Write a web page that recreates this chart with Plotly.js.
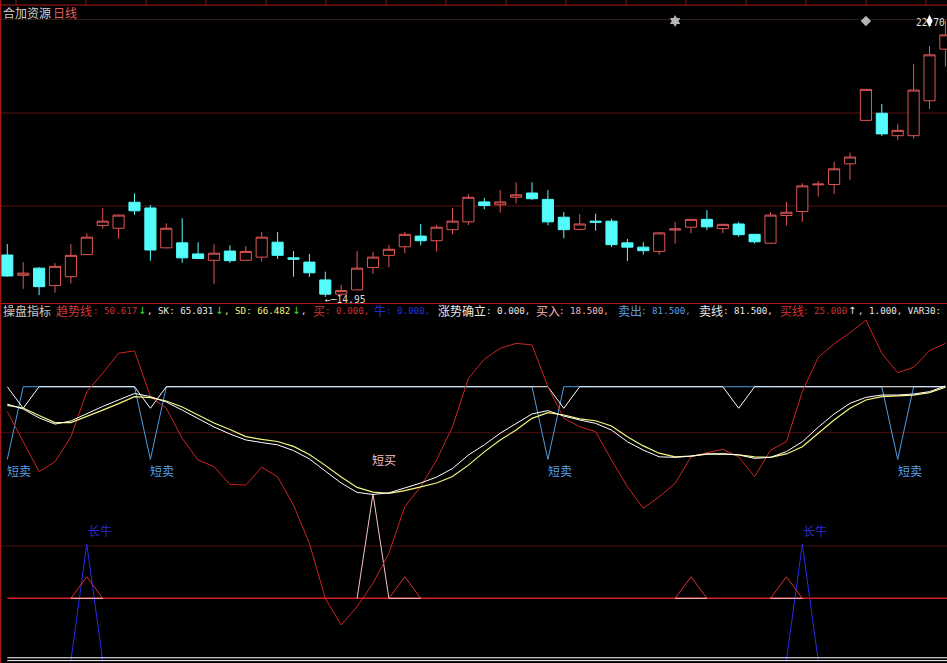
<!DOCTYPE html>
<html><head><meta charset="utf-8">
<script src="https://cdn.plot.ly/plotly-3.0.1.min.js"></script>
<style>html,body{margin:0;padding:0;background:#000;overflow:hidden}#chart{width:947px;height:663px}</style>
</head><body><div id="chart"></div>
<script>
// ---------- price panel data (daily candles, index 0..59) ----------
const openP  = [16.13,15.56,15.76,15.27,15.52,16.14,16.96,16.88,17.61,17.45,
                16.33,16.47,16.16,15.98,16.24,15.98,16.07,16.49,16.05,15.93,
                15.43,15.03,15.15,15.78,16.12,16.36,16.66,16.53,16.84,17.06,
                17.62,17.54,17.75,17.87,17.69,17.19,16.85,17.08,17.08,16.47,
                16.35,16.23,16.83,16.91,17.13,16.87,17.00,16.71,16.46,17.24,
                17.35,18.10,18.11,18.69,19.91,20.11,19.48,19.48,20.46,21.91];
const highP  = [16.44,15.93,15.79,15.90,16.44,16.74,17.45,17.26,17.86,17.53,
                17.02,17.16,16.49,16.43,16.40,16.38,16.78,16.78,16.24,16.16,
                15.66,15.29,16.24,16.22,16.41,16.78,17.00,16.97,17.45,17.84,
                17.73,17.95,18.17,18.17,17.95,17.34,17.28,17.29,17.15,16.58,
                16.49,16.78,17.06,17.14,17.39,17.00,17.06,16.72,17.33,17.62,
                18.14,18.21,18.75,19.00,20.79,20.37,19.81,21.50,22.00,22.70];
const lowP   = [15.52,15.18,15.00,15.07,15.33,16.13,16.87,16.59,17.26,15.97,
                16.32,15.91,16.02,15.32,15.90,15.97,15.95,16.02,15.52,15.51,
                14.95,14.98,15.14,15.60,15.78,16.18,16.40,16.23,16.71,16.97,
                17.41,17.32,17.58,17.67,16.96,16.60,16.82,16.81,16.35,15.96,
                16.14,16.14,16.45,16.74,16.83,16.74,16.64,16.45,16.45,16.95,
                17.06,17.77,17.84,18.24,19.90,19.47,19.36,19.40,20.23,21.42];
const closeP = [15.54,15.62,15.24,15.81,16.12,16.63,17.08,17.25,17.37,16.27,
                16.88,16.05,16.03,16.18,15.97,16.23,16.63,16.12,16.01,15.63,
                15.03,15.13,15.76,16.07,16.29,16.71,16.53,16.91,17.08,17.75,
                17.52,17.62,17.82,17.71,17.06,16.84,17.00,17.05,16.42,16.35,
                16.25,16.75,16.86,17.13,16.92,16.99,16.70,16.50,17.25,17.33,
                18.07,18.12,18.55,18.88,20.78,19.53,19.63,20.76,21.75,22.31];
const topSignalIdx = [42, 54];
const topSignalSym = ['hexagram', 'diamond'];
const lowLabelIdx = 20, lowLabelText = '\u2190\u250014.95';
const highLabelIdx = 58, highLabelText = '22.70', highValue = 22.70;

// ---------- indicator panel data ----------
const trendLine = [71.9,60.6,48.8,52.6,62.2,79.6,86.7,94.4,95.3,77.7,
                   73.2,61.6,53.3,50.7,43.9,43.6,50.5,46.8,35.9,21.2,
                   0.0,-10.3,-3.2,5.8,17.3,35.3,43.0,53.3,66.1,84.7,
                   92.1,96.3,98.2,97.6,81.5,69.3,66.1,64.2,53.3,43.0,
                   34.7,39.1,44.3,54.5,56.1,57.4,54.5,46.8,57.1,60.3,
                   79.6,92.8,98.0,102.3,107.2,94.4,86.9,89.0,95.4,98.2];
const skLine = [74.8,72.9,69.5,67.1,68.3,71.2,73.9,76.4,78.9,77.7,
                75.6,72.5,69.3,66.0,63.3,61.0,60.0,59.1,56.9,53.7,
                49.0,44.4,40.8,40.0,40.6,42.5,44.4,46.7,50.0,55.2,
                59.1,63.6,67.4,71.0,72.3,70.2,68.7,67.4,64.8,60.3,
                57.1,54.5,54.3,54.8,55.6,55.6,55.2,53.9,54.3,56.5,
                60.3,65.9,71.0,75.1,77.4,78.3,78.3,78.7,79.6,81.8];
const sdLine = [74.3,73.3,70.4,67.7,67.7,70.0,72.5,75.0,77.7,77.3,
                76.0,73.7,70.6,67.5,65.0,62.3,61.2,60.4,58.5,55.4,
                51.2,46.7,42.7,40.9,40.4,41.5,42.9,44.4,46.9,51.3,
                56.4,61.0,64.8,69.3,71.5,70.6,69.1,68.4,66.4,62.2,
                58.7,55.9,54.5,54.8,55.5,55.6,55.3,54.5,54.3,55.6,
                58.4,63.6,68.7,73.2,76.4,77.7,77.9,78.3,79.2,81.3];
const sellLine = [81.5,73.2,81.5,81.5,81.5,81.5,81.5,81.5,81.5,73.2,
                  81.5,81.5,81.5,81.5,81.5,81.5,81.5,81.5,81.5,81.5,
                  81.5,81.5,81.5,81.5,81.5,81.5,81.5,81.5,81.5,81.5,
                  81.5,81.5,81.5,81.5,81.5,73.2,81.5,81.5,81.5,81.5,
                  81.5,81.5,81.5,81.5,81.5,81.5,73.2,81.5,81.5,81.5,
                  81.5,81.5,81.5,81.5,81.5,81.5,81.5,81.5,81.5,81.5];
const shortSellLine = [53.5,81.5,81.5,81.5,81.5,81.5,81.5,81.5,81.5,53.5,
                       81.5,81.5,81.5,81.5,81.5,81.5,81.5,81.5,81.5,81.5,
                       81.5,81.5,81.5,81.5,81.5,81.5,81.5,81.5,81.5,81.5,
                       81.5,81.5,81.5,81.5,53.5,81.5,81.5,81.5,81.5,81.5,
                       81.5,81.5,81.5,81.5,81.5,81.5,81.5,81.5,81.5,81.5,
                       81.5,81.5,81.5,81.5,81.5,81.5,53.5,81.5,81.5,81.5];
const N = null;
const buyTri = [N,N,N,N,0,8.3,0,N,N,N, N,N,N,N,N,N,N,N,N,N,
                N,N,N,N,0,8.3,0,N,N,N, N,N,N,N,N,N,N,N,N,N,
                N,N,0,8.3,0,N,N,N,0,8.3, 0,N,N,N,N,N,N,N,N,N];
const shortBuy = [N,N,N,N,0,0,0,N,N,N, N,N,N,N,N,N,N,N,N,N,
                  N,N,0,40.2,0,0,0,N,N,N, N,N,N,N,N,N,N,N,N,N,
                  N,N,0,0,0,N,N,N,0,0, 0,N,N,N,N,N,N,N,N,N];
const longBull = [N,N,N,N,-24.0,20.9,-24.0,N,N,N, N,N,N,N,N,N,N,N,N,N,
                  N,N,N,N,N,N,N,N,N,N, N,N,N,N,N,N,N,N,N,N,
                  N,N,N,N,N,N,N,N,N,-24.0, 20.9,-24.0,N,N,N,N,N,N,N,N];
const baseLevel = 0, bottomLevels = [-22.9, -24.0];
const shortSellIdx = [0, 9, 34, 56], shortSellLabelY = 49.1;
const shortBuyIdx = [23], shortBuyLabelY = 53.3;
const longBullIdx = [5, 50], longBullLabelY = 26.0;

// header (indicator values): [text, colour, x px, kind]  kind: c=CJK, m=mono, a=arrow
const headerParts = [
  ['操盘指标', '#c8c8c8', 2, 'c'],
  ['趋势线', '#d23a3a', 55, 'c'],
  [': 50.617', '#c83232', 91.5, 'm'],
  ['\u2193', '#40e040', 137, 'a'],
  [', SK: 65.031', '#e8e8e8', 146, 'm'],
  ['\u2193', '#40e040', 213.5, 'a'],
  [', SD: 66.482', '#f0f078', 223, 'm'],
  ['\u2193', '#40e040', 290.5, 'a'],
  [',', '#e8e8e8', 300, 'm'],
  ['买', '#d23232', 311.5, 'c'],
  [': 0.000,', '#c83232', 323.5, 'm'],
  ['牛', '#2233dd', 373, 'c'],
  [': 0.000,', '#2233dd', 385, 'm'],
  ['涨势确立', '#e8e8e8', 436.5, 'c'],
  [': 0.000,', '#e8e8e8', 485, 'm'],
  ['买入', '#ffb4b4', 535, 'c'],
  [': 18.500,', '#ffb4b4', 557.5, 'm'],
  ['卖出', '#5a9fe0', 616.5, 'c'],
  [': 81.500,', '#5a9fe0', 640, 'm'],
  ['卖线', '#e8e8e8', 698, 'c'],
  [': 81.500,', '#e8e8e8', 721.5, 'm'],
  ['买线', '#d23232', 779, 'c'],
  [': 25.000', '#c83232', 801.5, 'm'],
  ['\u2191', '#e8e8e8', 847, 'a'],
  [', 1.000, VAR30:', '#e8e8e8', 856.5, 'm']
];

// ---------- build ----------
const W = 947, H = 663;
const py = p => 1 - p / H;
const idx = openP.map((_, i) => i);
const CJK = 'Noto Sans CJK SC';
const MONO = 'DejaVu Sans Mono';

const traces = [];
traces.push({
  type: 'candlestick', x: idx, open: openP, high: highP, low: lowP, close: closeP,
  xaxis: 'x', yaxis: 'y', whiskerwidth: 0, hoverinfo: 'skip',
  increasing: {line: {color: '#e05656', width: 1}, fillcolor: '#000000'},
  decreasing: {line: {color: '#54fcfc', width: 1}, fillcolor: '#54fcfc'}
});
traces.push({
  type: 'scatter', mode: 'markers', x: topSignalIdx, y: topSignalIdx.map(() => highValue),
  xaxis: 'x', yaxis: 'y', hoverinfo: 'skip',
  marker: {symbol: topSignalSym, size: [9, 8], color: '#ffffff', line: {width: 0}}
});
traces.push({
  type: 'scatter', mode: 'markers', x: [highLabelIdx], y: [highValue],
  xaxis: 'x', yaxis: 'y', hoverinfo: 'skip',
  marker: {symbol: 'diamond-tall', size: 9, color: '#ffffff'}
});
function line(y, color, width) {
  return {type: 'scatter', mode: 'lines', x: idx, y: y, xaxis: 'x', yaxis: 'y2',
          hoverinfo: 'skip', connectgaps: false, line: {color: color, width: width || 1}};
}
traces.push(line(longBull, '#2a2ae6', 1));
traces.push(line(buyTri, '#d83030', 1));
traces.push(line(shortBuy, '#f6c4c4', 1));
traces.push(line(shortSellLine, '#4f9de0', 1));
traces.push(line(sellLine, '#ffffff', 1));
traces.push(line(trendLine, '#cc2424', 1));
traces.push(line(sdLine, '#f6f67e', 1.2));
traces.push(line(skLine, '#ffffff', 1));

const shapes = [];
function hline(p, color, w) {
  shapes.push({type: 'line', xref: 'paper', yref: 'paper', x0: 0, x1: 1, y0: py(p), y1: py(p),
               line: {color: color, width: w || 1}, layer: 'below'});
}
hline(5, '#a81c1c', 1);
hline(19.5, '#2e1c1c', 1);
hline(113, '#5a1212', 1);
hline(206, '#5a1212', 1);
hline(303.5, '#b01c1c', 1);
hline(432.7, '#4a0e0e', 1);
hline(546, '#4a0e0e', 1);
shapes.push({type: 'line', xref: 'paper', yref: 'paper', x0: 0.6 / W, x1: 0.6 / W, y0: 0, y1: 1,
             line: {color: '#a01818', width: 1.5}});
[16, 86, 146, 206, 266, 326, 386, 446, 506, 566, 626, 686, 746, 806, 866, 926].forEach(x => {
  shapes.push({type: 'line', xref: 'paper', yref: 'paper', x0: x / W, x1: x / W, y0: py(0), y1: py(5),
               line: {color: '#8a1818', width: 1}});
});
shapes.push({type: 'line', xref: 'x', yref: 'y2', x0: 0, x1: 59.2, y0: baseLevel, y1: baseLevel,
             line: {color: '#d82222', width: 1.5}, layer: 'below'});
bottomLevels.forEach(v => shapes.push({type: 'line', xref: 'x', yref: 'y2', x0: 0, x1: 59.2, y0: v, y1: v,
             line: {color: '#ffffff', width: 1}}));

const ann = [];
function txt(x, y, text, color, size, fam, xanchor, xref, yref, extra) {
  ann.push(Object.assign({x: x, y: y, xref: xref || 'paper', yref: yref || 'paper', text: text,
    showarrow: false, xanchor: xanchor || 'left', yanchor: 'middle', borderpad: 0,
    font: {color: color, size: size, family: fam}}, extra || {}));
}
txt(2 / W, py(12.7), '合加资源', '#cfcfcf', 12, CJK);
txt(52 / W, py(12.7), '日线', '#e85c5c', 12, CJK);
headerParts.forEach(p => {
  const size = p[3] === 'c' ? 12 : (p[3] === 'a' ? 10 : 9.2);
  const fam = p[3] === 'c' ? CJK : (p[3] === 'a' ? 'DejaVu Sans' : MONO);
  txt(p[2] / W, py(310.7), p[0], p[1], size, fam);
});
txt(lowLabelIdx, lowP[lowLabelIdx], lowLabelText, '#dcdcdc', 9.6, MONO, 'left', 'x', 'y', {yshift: -2.5, xshift: -1});
txt(highLabelIdx, highValue, highLabelText, '#dcdcdc', 9.6, MONO, 'center', 'x', 'y', {yshift: -1.5, xshift: 1});
shortSellIdx.forEach(i => txt(i, shortSellLabelY, '短卖', '#5aa0e6', 12, CJK, 'left', 'x', 'y2', {xshift: -1}));
shortBuyIdx.forEach(i => txt(i, shortBuyLabelY, '短买', '#ffc0c0', 12, CJK, 'left', 'x', 'y2', {xshift: -2}));
longBullIdx.forEach(i => txt(i, longBullLabelY, '长牛', '#2a2ad2', 12, CJK, 'left', 'x', 'y2'));

const layout = {
  width: W, height: H, margin: {l: 0, r: 0, t: 0, b: 0, pad: 0},
  paper_bgcolor: '#000000', plot_bgcolor: '#000000', showlegend: false,
  boxgap: 0.3, boxgroupgap: 0,
  xaxis: {range: [-0.459, 59.1], visible: false, rangeslider: {visible: false}, fixedrange: true, anchor: 'y2'},
  yaxis: {domain: [py(303), py(5)], range: [14.7815, 23.1494], visible: false, fixedrange: true},
  yaxis2: {domain: [0, py(318)], range: [-24.92, 107.97], visible: false, fixedrange: true},
  shapes: shapes, annotations: ann
};
Plotly.newPlot('chart', traces, layout, {staticPlot: true, displayModeBar: false});
</script>
</body></html>
